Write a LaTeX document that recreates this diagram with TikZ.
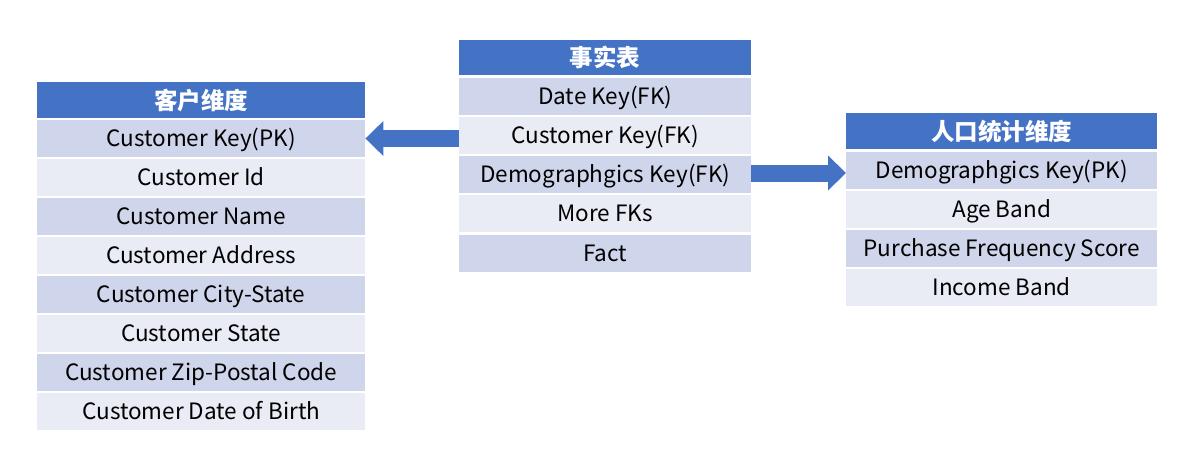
\documentclass[tikz,border=0pt]{standalone}
\usepackage{fontspec}
\setmainfont{Noto Sans CJK SC}
\usetikzlibrary{arrows.meta}
\definecolor{hdr}{HTML}{4472C4}
\definecolor{rowd}{HTML}{CFD5EA}
\definecolor{rowl}{HTML}{E9EBF5}
\definecolor{arr}{HTML}{4472C4}
\tikzset{
  cell/.style={anchor=north west, inner sep=0pt, minimum height=37pt,
    text height=16pt, text depth=0pt,
    font=\fontsize{22.5}{26}\selectfont, text=black},
  hdrcell/.style={cell, fill=hdr, text=white, text height=18pt, text depth=0pt,
    font=\fontsize{23.5}{27}\selectfont\bfseries},
  dk/.style={cell, fill=rowd},
  lt/.style={cell, fill=rowl},
  blockarrow/.style={draw=arr, line width=17pt,
    -{Triangle[length=18pt,width=34pt]}}
}
\begin{document}
\begin{tikzpicture}[x=1pt,y=-1pt]
\useasboundingbox (0,0) rectangle (1193,466);
% left table
\begin{scope}[every node/.append style={minimum width=328pt}]
\node[hdrcell, minimum height=36pt] (lh) at (37,82) {客户维度};
\node[dk] (lc1) at (37,120) {Customer Key(PK)};
\node[lt] (lc2) at (37,159) {Customer Id};
\node[dk] (lc3) at (37,198) {Customer Name};
\node[lt] (lc4) at (37,237) {Customer Address};
\node[dk] (lc5) at (37,276) {Customer City-State};
\node[lt] (lc6) at (37,315) {Customer State};
\node[dk] (lc7) at (37,354) {Customer Zip-Postal Code};
\node[lt] (lc8) at (37,393) {Customer Date of Birth};
\end{scope}
% middle table
\begin{scope}[every node/.append style={minimum width=292pt}]
\node[hdrcell, minimum height=35pt] (mh) at (459,40) {事实表};
\node[dk] (mc1) at (459,77.5) {Date Key(FK)};
\node[lt] (mc2) at (459,116.7) {Customer Key(FK)};
\node[dk] (mc3) at (459,155.9) {Demographgics Key(FK)};
\node[lt] (mc4) at (459,195.1) {More FKs};
\node[dk] (mc5) at (459,234.3) {Fact};
\end{scope}
% right table
\begin{scope}[every node/.append style={minimum width=311pt}]
\node[hdrcell, minimum height=36pt] (rh) at (846,113) {人口统计维度};
\node[dk] (rc1) at (846,152) {Demographgics Key(PK)};
\node[lt] (rc2) at (846,191) {Age Band};
\node[dk] (rc3) at (846,230) {Purchase Frequency Score};
\node[lt] (rc4) at (846,269) {Income Band};
\end{scope}
% arrows
\draw[blockarrow] (mc2.west |- 0,138.5) -- (lc1.east |- 0,138.5);
\draw[blockarrow] (mc3.east |- 0,173) -- (rc1.west |- 0,173);
\end{tikzpicture}
\end{document}
